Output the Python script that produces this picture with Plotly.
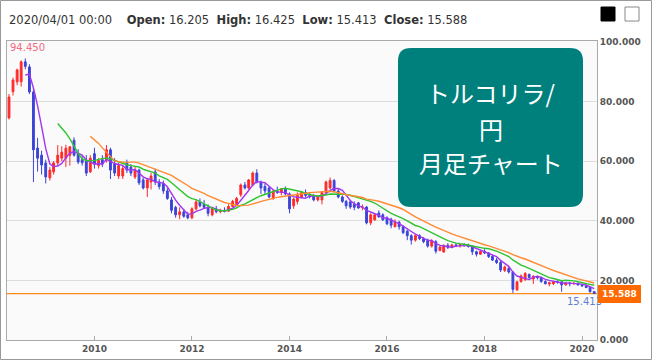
import plotly.graph_objects as go
import pandas as pd

# ---------------- data (monthly TRY/JPY candles) ----------------
start_month = "2008-04-01"
open_ = [74.5, 83.3, 86.6, 86.6, 93.3, 91.6, 83.2, 64.4, 62.0, 59.4,
         54.4, 56.4, 59.4, 61.0, 61.0, 62.0, 67.0, 62.7, 60.5, 60.0,
         56.4, 62.5, 58.5, 60.5, 60.4, 63.8, 59.0, 55.0, 55.0, 59.4,
         58.0, 54.7, 57.0, 53.7, 51.0, 53.0, 56.4, 53.0, 52.5, 50.0,
         47.0, 44.5, 42.0, 43.0, 42.0, 41.0, 44.0, 46.3, 45.5, 44.5,
         42.0, 44.0, 43.0, 43.5, 43.2, 44.8, 45.3, 48.7, 52.0, 51.0,
         52.0, 56.0, 53.0, 51.5, 51.0, 47.5, 50.0, 49.5, 50.7, 49.0,
         45.0, 46.5, 48.0, 49.5, 48.5, 48.5, 47.0, 47.0, 49.5, 51.0,
         53.5, 50.0, 48.0, 46.5, 46.3, 45.5, 46.0, 44.5, 44.6, 39.3,
         40.3, 42.6, 42.0, 41.0, 40.5, 38.0, 39.5, 38.0, 36.5, 35.0,
         33.5, 35.0, 34.0, 33.5, 31.5, 33.0, 30.0, 29.5, 31.8, 31.0,
         31.9, 31.6, 32.0, 31.8, 31.4, 29.6, 28.8, 29.7, 29.2, 28.0,
         26.8, 26.0, 23.3, 24.0, 22.8, 16.8, 19.6, 20.3, 22.0, 20.5,
         21.3, 20.9, 19.6, 18.8, 18.9, 19.6, 19.5, 18.5, 19.1, 18.9,
         19.0, 18.5, 18.2, 17.6, 16.205]
high = [82.5, 88.0, 91.0, 93.8, 94.45, 92.5, 84.5, 67.8, 63.5, 60.5,
        58.0, 60.0, 65.4, 65.0, 65.5, 65.0, 68.0, 64.0, 62.0, 62.0,
        62.0, 64.5, 61.0, 62.0, 65.4, 64.5, 61.0, 59.5, 58.5, 60.5,
        59.0, 58.0, 57.5, 54.5, 54.0, 56.0, 57.5, 54.0, 53.5, 51.0,
        48.0, 45.0, 44.5, 44.0, 43.0, 44.5, 47.0, 47.5, 47.0, 45.5,
        44.5, 45.0, 44.0, 44.5, 45.5, 47.0, 48.0, 52.5, 53.0, 54.0,
        56.5, 57.3, 53.5, 52.5, 51.5, 50.5, 51.5, 51.0, 51.5, 49.5,
        47.8, 49.5, 50.0, 50.5, 49.5, 49.0, 48.5, 50.0, 53.5, 54.5,
        54.0, 51.0, 48.5, 47.0, 47.0, 46.5, 46.3, 45.5, 45.0, 42.5,
        42.5, 43.5, 42.5, 41.5, 41.0, 40.5, 40.0, 38.5, 37.0, 35.5,
        35.5, 35.5, 34.5, 34.0, 33.8, 33.5, 31.5, 32.0, 32.5, 32.3,
        32.5, 32.4, 32.5, 32.3, 31.8, 30.0, 30.0, 30.5, 29.5, 28.5,
        27.5, 26.5, 25.0, 24.5, 23.2, 19.8, 22.0, 22.8, 22.3, 21.8,
        21.6, 21.3, 20.0, 19.6, 19.8, 20.0, 19.8, 19.4, 19.5, 19.4,
        19.2, 18.8, 18.4, 17.9, 16.425]
low = [74.0, 82.0, 85.5, 85.0, 90.8, 82.5, 53.0, 56.5, 55.5, 52.5,
       53.5, 55.5, 58.5, 60.0, 58.0, 58.5, 61.5, 59.0, 58.5, 55.0,
       56.0, 57.5, 57.5, 58.0, 59.5, 54.0, 55.0, 54.0, 54.0, 56.0,
       55.0, 54.0, 52.0, 50.5, 48.0, 50.5, 52.0, 50.5, 49.0, 47.0,
       42.5, 41.0, 40.5, 41.0, 40.5, 40.5, 43.5, 44.5, 44.0, 41.5,
       41.5, 42.5, 42.5, 42.8, 43.0, 44.5, 45.0, 48.0, 50.5, 50.5,
       51.5, 52.5, 49.0, 49.0, 47.5, 47.0, 49.0, 48.5, 48.5, 42.5,
       44.0, 45.5, 47.5, 48.0, 47.5, 46.5, 46.5, 45.5, 49.0, 50.5,
       49.5, 47.5, 46.0, 44.0, 44.0, 43.5, 44.0, 43.5, 38.8, 38.5,
       40.0, 41.0, 40.0, 38.5, 37.5, 37.8, 37.0, 35.5, 33.5, 32.0,
       33.0, 33.5, 32.5, 31.0, 31.0, 29.0, 29.8, 29.3, 30.5, 30.8,
       31.2, 31.0, 31.3, 31.0, 28.5, 28.0, 28.5, 28.8, 27.5, 26.5,
       25.5, 22.8, 22.8, 22.3, 15.8, 16.5, 19.2, 19.8, 20.5, 18.8,
       20.3, 19.2, 18.6, 18.0, 18.4, 18.9, 16.2, 18.2, 18.0, 18.5,
       18.2, 17.8, 17.4, 15.9, 15.413]
close = [81.5, 87.2, 90.6, 93.3, 91.8, 83.2, 63.8, 61.0, 58.7, 54.7,
         57.0, 59.4, 62.0, 63.0, 64.3, 64.8, 62.0, 59.7, 59.5, 56.0,
         61.0, 59.0, 60.2, 59.0, 63.8, 57.0, 56.0, 58.5, 57.5, 57.0,
         56.0, 57.0, 52.7, 51.0, 53.7, 55.0, 53.0, 51.5, 50.0, 47.5,
         43.5, 42.0, 43.0, 41.5, 41.0, 44.0, 46.3, 45.0, 44.5, 42.5,
         44.0, 43.0, 43.5, 43.2, 44.8, 46.5, 47.5, 52.0, 51.0, 53.7,
         56.0, 53.0, 51.0, 50.0, 48.0, 50.0, 49.5, 50.7, 49.0, 44.0,
         47.3, 48.5, 49.5, 48.5, 48.0, 47.0, 48.0, 49.5, 53.0, 53.5,
         50.0, 48.0, 46.5, 45.0, 44.6, 44.5, 44.3, 44.6, 39.3, 42.0,
         42.0, 41.3, 40.3, 39.0, 38.5, 39.5, 38.0, 36.0, 35.0, 33.5,
         35.0, 34.0, 33.0, 31.5, 33.3, 29.8, 31.2, 31.8, 31.0, 31.9,
         31.6, 32.0, 31.8, 31.4, 29.6, 28.8, 29.7, 29.2, 28.0, 26.8,
         26.0, 23.5, 24.5, 22.8, 17.0, 19.5, 21.5, 22.3, 21.0, 21.3,
         20.9, 19.6, 18.9, 19.2, 19.6, 19.4, 18.5, 19.1, 18.9, 19.0,
         18.5, 18.2, 17.6, 16.2, 15.588]

ma_periods = [5, 13, 21]
ma_colors = ["#a335f0", "#2fc42f", "#ff8a33"]

title_lines = ["トルコリラ/", "円", "月足チャート"]
year_ticks = ["2010", "2012", "2014", "2016", "2018", "2020"]

UP = "#ff2a2a"
DOWN = "#3c44d8"

dates = pd.date_range(start_month, periods=len(close), freq="MS")

# ---------------- geometry helpers (pixel -> paper) ----------------
W, H = 652, 360
ML, MR, MT, MB = 7, 55, 41, 20
PW, PH = W - ML - MR, H - MT - MB


def px(xp):
    return (xp - ML) / PW


def py(yp):
    return (H - MB - yp) / PH


def rrect(x0, y0, x1, y1, r):
    return (f"M {px(x0 + r)},{py(y0)} L {px(x1 - r)},{py(y0)} "
            f"Q {px(x1)},{py(y0)} {px(x1)},{py(y0 + r)} "
            f"L {px(x1)},{py(y1 - r)} Q {px(x1)},{py(y1)} {px(x1 - r)},{py(y1)} "
            f"L {px(x0 + r)},{py(y1)} Q {px(x0)},{py(y1)} {px(x0)},{py(y1 - r)} "
            f"L {px(x0)},{py(y0 + r)} Q {px(x0)},{py(y0)} {px(x0 + r)},{py(y0)} Z")


fig = go.Figure()

fig.add_trace(go.Candlestick(
    x=dates, open=open_, high=high, low=low, close=close,
    increasing=dict(line=dict(color=UP, width=1), fillcolor=UP),
    decreasing=dict(line=dict(color=DOWN, width=1), fillcolor=DOWN),
    whiskerwidth=0, hoverinfo="skip",
))

cs = pd.Series(close)
for n, col in zip(ma_periods, ma_colors):
    fig.add_trace(go.Scatter(
        x=dates, y=cs.rolling(n).mean(), mode="lines",
        line=dict(color=col, width=1.4), hoverinfo="skip",
    ))

FONT = "DejaVu Sans"
axis_font = dict(family=FONT, size=9, color="#555555", weight="bold")

fig.update_layout(
    width=W, height=H,
    margin=dict(l=ML, r=MR, t=MT, b=MB),
    paper_bgcolor="white", plot_bgcolor="#fafafa",
    showlegend=False,
    xaxis=dict(
        type="date", range=["2008-03-17", "2020-04-22"],
        rangeslider=dict(visible=False),
        tickvals=[pd.Timestamp(y + "-01-01") for y in year_ticks],
        ticktext=year_ticks,
        ticks="inside", ticklen=4, tickcolor="#aaaaaa",
        showgrid=False, zeroline=False,
        showline=True, mirror=True, linecolor="#aaaaaa", linewidth=1,
        tickfont=axis_font,
    ),
    yaxis=dict(
        side="right", range=[0, 100.3], dtick=20, tick0=0,
        tickformat=".3f", showgrid=True, gridcolor="#dddddd", gridwidth=1,
        zeroline=False, showline=True, mirror=True,
        linecolor="#aaaaaa", linewidth=1, ticks="",
        tickfont=axis_font,
    ),
)

shapes = []
# outer frame
shapes.append(dict(type="rect", xref="paper", yref="paper",
                   x0=px(0.5), x1=px(651.5), y0=py(359.5), y1=py(0.5),
                   line=dict(color="#999999", width=1), fillcolor="rgba(0,0,0,0)",
                   layer="below"))
# last price line
shapes.append(dict(type="line", xref="paper", yref="y", x0=0, x1=1,
                   y0=close[-1], y1=close[-1],
                   line=dict(color="#ff8c1a", width=1.2), layer="between"))
# theme squares
shapes.append(dict(type="rect", xref="paper", yref="paper",
                   x0=px(601), x1=px(615), y0=py(21), y1=py(7),
                   line=dict(color="#000000", width=1), fillcolor="#000000"))
shapes.append(dict(type="rect", xref="paper", yref="paper",
                   x0=px(625), x1=px(639), y0=py(21), y1=py(7),
                   line=dict(color="#888888", width=1), fillcolor="#ffffff"))
# title box
shapes.append(dict(type="path", xref="paper", yref="paper",
                   path=rrect(398, 48, 583, 207, 13),
                   fillcolor="#00807c", line=dict(width=0), layer="above"))

last = len(close) - 1
sp = "&nbsp;&nbsp;"
header = (f"{dates[last].strftime('%Y/%m/%d')} 00:00{sp}&nbsp;&nbsp;"
          f"<b>Open:</b> {open_[last]:.3f}{sp}"
          f"<b>High:</b> {high[last]:.3f}{sp}"
          f"<b>Low:</b> {low[last]:.3f}{sp}"
          f"<b>Close:</b> {close[last]:.3f}")

imin = low.index(min(low))
annotations = [
    dict(xref="paper", yref="paper", x=px(7), y=py(20), xanchor="left",
         yanchor="middle", text=header, showarrow=False,
         font=dict(family=FONT, size=11.5, color="#333333")),
    dict(xref="paper", yref="paper", x=px(8), y=py(48), xanchor="left",
         yanchor="middle", text=f"{max(high):.3f}", showarrow=False,
         font=dict(family=FONT, size=10, color="#f06a84")),
    dict(xref="x", yref="y", x=dates[imin], y=min(low), xanchor="center",
         yanchor="top", xshift=-10, text=f"{min(low):.3f}", showarrow=False,
         font=dict(family=FONT, size=10, color="#5f7fd0")),
    dict(xref="paper", yref="y", x=1, y=close[-1], xanchor="left",
         yanchor="middle", xshift=1, text=f"<b>{close[-1]:.3f}</b>",
         showarrow=False, bgcolor="#ff6a00", borderpad=4, borderwidth=0,
         font=dict(family=FONT, size=9, color="white")),
]
for line, ypix in zip(title_lines, [92, 128, 162]):
    annotations.append(dict(
        xref="paper", yref="paper", x=px(490.5), y=py(ypix),
        xanchor="center", yanchor="middle", text=line, showarrow=False,
        font=dict(family="Noto Sans CJK JP", size=24, color="white")))

fig.update_layout(shapes=shapes, annotations=annotations)

fig.write_html("out.html", config={"displayModeBar": False},
               post_script="document.body.style.margin='0';")
